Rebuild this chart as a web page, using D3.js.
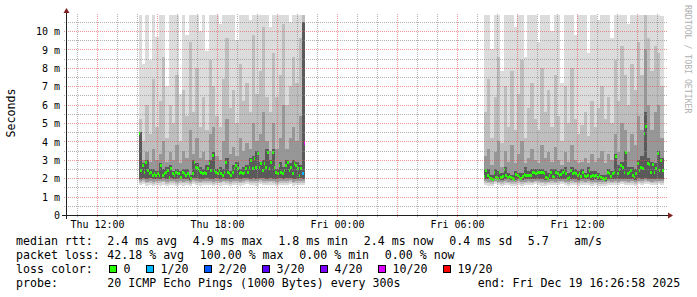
<!DOCTYPE html>
<html>
<head>
<meta charset="utf-8">
<script src="https://cdn.jsdelivr.net/npm/d3@7"></script>
<style>
  body { margin: 0; background: #ffffff; }
  svg { display: block; }
  text { font-family: "DejaVu Sans Mono", monospace; fill: #000000; white-space: pre; }
</style>
</head>
<body>
<div id="vis"></div>
<script>
// ---- data (milliseconds) ----
var graphStart = new Date(2025, 11, 18, 10, 27);
var graphEnd = new Date(2025, 11, 19, 16, 27);

// first stretch with answers, 5 minute medians
var block1Start = new Date(2025, 11, 18, 14, 5);
var block1Median = [
  4.45, 2.45, 2.72, 2.36, 2.90, 2.45, 2.27, 2.36, 2.18, 2.27,
  2.18, 2.27, 2.18, 2.72, 2.18, 2.27, 2.36, 2.45, 2.09, 2.54,
  2.27, 2.18, 2.36, 2.27, 2.27, 2.09, 2.36, 2.27, 2.18, 2.27,
  2.18, 2.00, 2.27, 2.90, 2.63, 2.54, 2.45, 2.36, 2.27, 2.36,
  2.27, 2.54, 2.81, 2.45, 3.27, 2.45, 2.36, 2.27, 2.45, 2.27,
  2.18, 2.36, 2.90, 2.36, 2.27, 2.18, 2.36, 2.54, 2.72, 2.54,
  2.27, 2.36, 2.27, 2.36, 2.54, 2.36, 2.63, 2.99, 2.54, 3.08,
  2.63, 3.36, 2.63, 2.81, 2.45, 2.81, 2.63, 3.45, 2.54, 2.90,
  3.45, 2.63, 2.36, 2.27, 2.72, 2.36, 2.27, 2.45, 2.72, 2.90,
  2.45, 2.63, 2.27, 2.81, 2.72, 2.54, 2.18, 2.54, 2.27, 3.90
];
// steps where some pings were lost (index, lost of 20)
var block1LossIdx = [98, 99];
var block1LossVal = [1, 10];

// smoke, 10 minute columns, from outer band to inner band
var block1Lo1 = [1.62,1.66,1.60,1.64,1.58,1.62,1.60,1.65,1.59,1.63, 1.61,1.57,1.64,1.60,1.62,1.58,1.66,1.63,1.60,1.62, 1.64,1.61,1.59,1.63,1.60,1.65,1.62,1.58,1.61,1.64, 1.60,1.63,1.66,1.62,1.64,1.60,1.67,1.63,1.61,1.65, 1.62,1.59,1.64,1.61,1.63,1.66,1.60,1.62,1.64,1.61];
var block1Lo2 = [1.74,1.78,1.72,1.76,1.70,1.74,1.73,1.77,1.71,1.75, 1.73,1.70,1.76,1.72,1.74,1.71,1.78,1.75,1.72,1.74, 1.76,1.73,1.71,1.75,1.72,1.77,1.74,1.70,1.73,1.76, 1.72,1.75,1.78,1.74,1.76,1.73,1.79,1.75,1.73,1.77, 1.74,1.71,1.76,1.73,1.75,1.78,1.72,1.74,1.76,1.73];
var block1Lo3 = [1.84,1.88,1.82,1.86,1.80,1.84,1.83,1.87,1.81,1.85, 1.83,1.80,1.86,1.82,1.84,1.81,1.88,1.85,1.82,1.84, 1.86,1.83,1.81,1.85,1.82,1.87,1.84,1.80,1.83,1.86, 1.82,1.85,1.88,1.84,1.86,1.83,1.89,1.85,1.83,1.87, 1.84,1.81,1.86,1.83,1.85,1.88,1.82,1.84,1.86,1.83];
var block1Lo4 = [1.98,2.02,1.96,2.00,1.95,1.98,1.97,2.01,1.95,1.99, 1.97,1.94,2.00,1.96,1.98,1.92,2.02,1.99,1.96,1.98, 2.00,1.97,1.95,1.99,1.96,2.01,1.98,1.94,1.97,2.00, 1.96,1.99,2.02,1.98,2.00,1.97,2.03,1.99,1.97,2.01, 1.98,1.95,2.00,1.97,1.99,2.02,1.96,1.98,2.00,1.97];
var block1Hi4 = [4.5,2.8,3.0,2.5,2.5,2.4,2.8,2.5,2.6,2.7, 2.4,2.5,2.4,2.5,2.5,2.2,3.0,2.8,2.6,2.5, 2.7,3.0,3.4,2.5,2.6,2.5,3.1,2.4,2.7,2.9, 2.5,2.6,2.7,3.1,3.2,3.5,2.9,3.0,3.6,3.0, 3.6,2.5,2.9,2.6,3.0,2.8,3.0,2.9,2.7,10.5];
var block1Hi3 = [4.4,3.0,3.4,2.9,3.6,3.0,3.3,4.0,2.9,3.4, 3.0,3.8,2.8,3.5,3.1,4.6,3.3,4.2,3.1,3.4, 3.0,4.4,4.8,3.2,3.0,4.0,5.2,3.3,3.7,3.2, 4.2,3.5,3.9,3.6,5.0,4.0,4.4,5.6,4.0,3.5, 5.0,3.6,4.2,6.0,3.6,4.2,4.8,4.0,5.4,10.5];
var block1Hi2 = [5.2,4.0,6.0,4.4,7.4,4.8,6.2,8.6,4.2,6.0, 5.0,7.6,4.0,6.8,5.4,9.4,5.6,8.0,4.8,6.4, 4.6,8.4,7.0,5.4,4.8,7.4,9.6,5.8,6.8,5.0, 8.2,6.2,7.2,5.6,9.8,6.6,7.8,10.2,6.4,5.6, 8.8,6.4,7.6,10.4,6.0,7.0,8.6,7.2,9.6,11];
var block1Hi1 = [12,8.2,12,8.4,12,9.7,12,12,7.0,12, 12,12,6.6,12,9.8,12,12,12,10.0,12, 8.9,12,12,12,10.4,12,12,12,12,9.5, 12,12,12,10.6,12,12,12,12,12,10.2, 12,12,12,12,12,10.5,12,12,12,12];

// second stretch with answers
var block2Start = new Date(2025, 11, 19, 7, 20);
var block2Median = [
  2.13, 2.42, 2.20, 2.05, 2.00, 1.95, 2.36, 2.05, 2.00, 2.31,
  2.09, 2.13, 2.49, 2.20, 2.09, 2.13, 2.05, 2.00, 1.97, 2.24,
  2.18, 2.05, 2.00, 2.13, 2.24, 2.18, 2.18, 2.20, 2.18, 2.31,
  2.36, 2.27, 2.31, 2.36, 2.31, 2.31, 2.27, 2.05, 2.00, 2.18,
  2.36, 2.13, 2.09, 2.36, 2.27, 2.18, 2.24, 2.36, 2.42, 2.27,
  2.00, 2.09, 2.42, 2.27, 2.36, 2.27, 2.18, 2.27, 2.13, 2.31,
  2.18, 2.13, 2.18, 2.42, 2.13, 2.18, 2.13, 2.18, 2.09, 2.18,
  2.05, 2.00, 1.95, 2.00, 2.36, 2.27, 2.13, 2.27, 2.36, 3.18,
  2.27, 2.49, 2.72, 2.63, 2.36, 3.41, 2.27, 2.36, 2.42, 2.20,
  2.09, 2.27, 2.81, 2.45, 2.63, 2.54, 4.48, 4.84, 2.81, 2.77,
  2.31, 2.77, 2.36, 2.54, 3.36, 2.45, 2.99, 2.45
];
var block2LossIdx = [];
var block2LossVal = [];

var block2Lo1 = [1.64,1.60,1.58,1.66,1.62,1.59,1.65,1.61,1.60,1.57, 1.63,1.60,1.62,1.64,1.61,1.66,1.63,1.60,1.58,1.62, 1.65,1.61,1.63,1.66,1.62,1.59,1.64,1.62,1.60,1.63, 1.61,1.64,1.60,1.62,1.59,1.57,1.56,1.63,1.61,1.65, 1.62,1.66,1.64,1.61,1.63,1.60,1.67,1.65,1.68,1.66, 1.62,1.64,1.66,1.63];
var block2Lo2 = [1.75,1.72,1.70,1.77,1.73,1.71,1.76,1.72,1.71,1.69, 1.74,1.71,1.73,1.75,1.72,1.77,1.74,1.72,1.70,1.73, 1.76,1.72,1.74,1.77,1.73,1.70,1.75,1.73,1.71,1.74, 1.72,1.75,1.71,1.73,1.70,1.69,1.68,1.74,1.72,1.76, 1.73,1.77,1.75,1.72,1.74,1.71,1.78,1.76,1.79,1.77, 1.73,1.75,1.77,1.74];
var block2Lo3 = [1.84,1.81,1.79,1.86,1.82,1.80,1.85,1.81,1.80,1.78, 1.83,1.80,1.82,1.84,1.81,1.86,1.83,1.81,1.79,1.82, 1.85,1.81,1.83,1.86,1.82,1.79,1.84,1.82,1.80,1.83, 1.81,1.84,1.80,1.82,1.79,1.78,1.77,1.83,1.81,1.85, 1.82,1.86,1.84,1.81,1.83,1.80,1.87,1.85,1.88,1.86, 1.82,1.84,1.86,1.83];
var block2Lo4 = [1.96,1.93,1.90,1.98,1.93,1.92,1.97,1.93,1.92,1.89, 1.95,1.92,1.94,1.96,1.93,1.98,1.95,1.93,1.91,1.94, 1.97,1.93,1.95,1.98,1.94,1.91,1.96,1.94,1.92,1.95, 1.93,1.96,1.92,1.94,1.91,1.88,1.87,1.95,1.93,1.97, 1.94,1.98,1.96,1.93,1.95,1.92,1.99,1.97,2.00,1.98, 1.94,1.96,1.98,1.95];
var block2Hi4 = [2.5,2.5,2.2,2.5,2.4,2.3,2.6,2.3,2.2,2.4, 2.3,2.3,2.6,2.4,2.5,2.5,2.5,2.5,2.4,2.3, 2.5,2.5,2.4,2.5,2.6,2.3,2.6,2.5,2.4,2.5, 2.3,2.6,2.4,2.4,2.3,2.2,2.2,2.5,2.4,3.3, 2.7,2.9,3.5,2.6,2.6,2.5,3.0,3.2,5.6,3.1, 2.9,2.8,3.5,3.1];
var block2Hi3 = [3.2,3.6,2.7,3.4,4.0,2.6,3.5,2.9,3.8,2.8, 3.3,4.0,2.8,3.1,3.6,3.0,2.8,3.8,3.1,3.4, 2.9,3.7,3.0,2.7,3.4,2.9,3.8,3.0,2.8,2.9, 3.1,2.8,3.3,2.9,3.1,3.5,2.8,3.3,3.0,4.4, 3.4,5.0,4.6,3.4,4.4,3.8,5.4,4.6,9.0,6.0, 4.6,5.6,6.0,4.2];
var block2Hi2 = [5.6,7.4,4.2,6.4,8.6,3.9,7.0,4.8,7.8,4.6, 6.6,8.4,4.2,5.8,7.2,5.2,4.6,8.0,5.6,6.8, 4.8,7.6,5.4,4.0,7.0,5.0,8.0,5.2,4.4,4.9, 5.6,4.3,6.2,4.8,5.8,7.0,5.2,6.4,5.0,8.4, 6.2,9.2,7.6,6.0,8.2,6.8,9.4,7.6,11,9.6, 7.8,9.2,8.8,7.0];
var block2Hi1 = [12,12,9.0,12,12,7.8,12,12,12,10.2, 12,12,8.6,12,12,12,9.4,12,12,12, 10.0,12,12,7.2,12,12,12,9.8,12,12, 12,8.8,12,12,10.6,12,12,12,9.6,12, 12,12,12,10.4,12,12,12,12,12,12, 12,12,12,10.8];

// axis labels
var yTickValues = [0, 1, 2, 3, 4, 5, 6, 7, 8, 9, 10];
var yTickLabels = ['0', '1 m', '2 m', '3 m', '4 m', '5 m', '6 m', '7 m', '8 m', '9 m', '10 m'];
var xTickTimes = [new Date(2025, 11, 18, 12), new Date(2025, 11, 18, 18), new Date(2025, 11, 19, 0),
                  new Date(2025, 11, 19, 6), new Date(2025, 11, 19, 12)];
var xTickLabels = ['Thu 12:00', 'Thu 18:00', 'Fri 00:00', 'Fri 06:00', 'Fri 12:00'];

// legend
var rttLabel = 'median rtt:';
var rttItems = ['2.4 ms avg', '4.9 ms max', '1.8 ms min', '2.4 ms now', '0.4 ms sd', '5.7'];
var rttUnit = 'am/s';
var lossLabel = 'packet loss:';
var lossItems = ['42.18 % avg', '100.00 % max', '0.00 % min', '0.00 % now'];
var lossColorLabel = 'loss color:';
var lossLevels = [0, 1, 2, 3, 4, 10, 19];
var lossLevelLabels = ['0', '1/20', '2/20', '3/20', '4/20', '10/20', '19/20'];
var lossLevelColors = ['#26ff00', '#00b8ff', '#0059ff', '#5e00ff', '#7e00ff', '#dd00ff', '#ff0000'];
var probeLabel = 'probe:';
var probeText = '20 ICMP Echo Pings (1000 Bytes) every 300s';
var endText = 'end: Fri Dec 19 16:26:58 2025';

// ---- layout ----
var w = 697;
var h = 297;
var xo = 66, xs = 600, yo = 215, ys = 200;
var yMax = 10.87;

var svg = d3.select('#vis')
  .append('svg')
    .attr('width', w)
    .attr('height', h)
    .style('background', '#ffffff');

var x = d3.scaleTime()
  .domain([graphStart, graphEnd])
  .range([xo, xo + xs]);

var y = d3.scaleLinear()
  .domain([0, yMax])
  .range([yo, yo - ys]);

function px(start, minutes) {
  return Math.round(x(new Date(start.getTime() + minutes * 60000)));
}
function py(v) {
  return Math.round(y(v));
}

var defs = svg.append('defs');
defs.append('clipPath')
  .attr('id', 'plot')
  .append('rect')
    .attr('x', xo).attr('y', yo - ys)
    .attr('width', xs).attr('height', ys);

// one pixel on, one pixel off, for the dotted grid
function dots(id, color, vertical) {
  defs.append('pattern')
    .attr('id', id)
    .attr('patternUnits', 'userSpaceOnUse')
    .attr('width', vertical ? 1 : 2)
    .attr('height', vertical ? 2 : 1)
    .append('rect')
      .attr('width', 1)
      .attr('height', 1)
      .style('fill', color);
}
var gridCol = 'rgba(143,143,143,0.7)';
var mgridCol = 'rgba(222,79,79,0.6)';
dots('hgrid', gridCol, false);
dots('hmgrid', mgridCol, false);
dots('vgrid', gridCol, true);
dots('vmgrid', mgridCol, true);

var plot = svg.append('g')
  .attr('clip-path', 'url(#plot)')
  .attr('shape-rendering', 'crispEdges');

var smokeGreys = ['#dcdcdc', '#bebebe', '#979797', '#5a5a5a'];

function drawBlock(start, median, lossIdx, lossVal, los, his) {
  // smoke bands, outer first so the darker ones sit on top
  los.forEach(function(lo, k) {
    var hi = his[k];
    plot.append('g').selectAll('rect')
      .data(d3.range(lo.length))
      .enter()
      .append('rect')
        .attr('x', function(i) { return px(start, i * 10); })
        .attr('width', function(i) { return px(start, (i + 1) * 10) - px(start, i * 10); })
        .attr('y', function(i) { return py(hi[i]); })
        .attr('height', function(i) { return py(lo[i]) - py(hi[i]); })
        .style('fill', smokeGreys[k]);
  });

  // median, coloured by loss
  plot.append('g').selectAll('rect')
    .data(median)
    .enter()
    .append('rect')
      .attr('x', function(d, i) { return px(start, i * 5); })
      .attr('width', function(d, i) { return px(start, (i + 1) * 5) - px(start, i * 5); })
      .attr('y', function(d) { return py(d) - 1; })
      .attr('height', 3)
      .style('fill', function(d, i) {
        var j = lossIdx.indexOf(i);
        var lost = j < 0 ? 0 : lossVal[j];
        var c = lossLevelColors[0];
        lossLevels.forEach(function(l, n) { if (lost >= l) c = lossLevelColors[n]; });
        return c;
      });
}

drawBlock(block1Start, block1Median, block1LossIdx, block1LossVal,
  [block1Lo1, block1Lo2, block1Lo3, block1Lo4], [block1Hi1, block1Hi2, block1Hi3, block1Hi4]);
drawBlock(block2Start, block2Median, block2LossIdx, block2LossVal,
  [block2Lo1, block2Lo2, block2Lo3, block2Lo4], [block2Hi1, block2Hi2, block2Hi3, block2Hi4]);

// ---- grid (drawn over the smoke, like rrdtool) ----
var grid = svg.append('g').attr('shape-rendering', 'crispEdges');

d3.range(1, 22).forEach(function(k) {
  var major = k % 2 === 0;
  grid.append('rect')
    .attr('x', xo - 2).attr('width', xs + 4)
    .attr('y', py(k / 2)).attr('height', 1)
    .style('fill', major ? 'url(#hmgrid)' : 'url(#hgrid)');
});

x.ticks(d3.timeHour.every(1)).forEach(function(t) {
  var major = t.getHours() % 3 === 0;
  grid.append('rect')
    .attr('x', Math.round(x(t))).attr('width', 1)
    .attr('y', yo - ys - 2).attr('height', ys + (major ? 5 : 4))
    .style('fill', major ? 'url(#vmgrid)' : 'url(#vgrid)');
});

// ---- axes ----
grid.append('line')
  .attr('x1', xo - 4).attr('x2', xo + xs + 4)
  .attr('y1', yo + 0.5).attr('y2', yo + 0.5)
  .style('stroke', '#1f1f1f');
grid.append('line')
  .attr('x1', xo + 0.5).attr('x2', xo + 0.5)
  .attr('y1', yo + 4).attr('y2', yo - ys - 4)
  .style('stroke', '#1f1f1f');

svg.append('path')
  .attr('d', 'M' + (xo + xs + 2) + ',' + (yo - 2.5) + 'L' + (xo + xs + 2) + ',' + (yo + 3.5) +
             'L' + (xo + xs + 7) + ',' + (yo + 0.5) + 'Z')
  .style('fill', '#801f1f');
svg.append('path')
  .attr('d', 'M' + (xo - 2.5) + ',' + (yo - ys - 2) + 'L' + (xo + 3.5) + ',' + (yo - ys - 2) +
             'L' + (xo + 0.5) + ',' + (yo - ys - 7) + 'Z')
  .style('fill', '#801f1f');

var yAxis = svg.append('g')
  .attr('transform', 'translate(' + xo + ',0)')
  .call(d3.axisLeft(y)
    .tickValues(yTickValues)
    .tickFormat(function(d, i) { return yTickLabels[i]; })
    .tickSize(0)
    .tickPadding(6));
yAxis.select('.domain').remove();
yAxis.selectAll('text')
  .attr('dy', '0.37em')
  .style('font-family', '"DejaVu Sans Mono", monospace')
  .style('font-size', '10px');

var xAxis = svg.append('g')
  .attr('transform', 'translate(0,' + yo + ')')
  .call(d3.axisBottom(x)
    .tickValues(xTickTimes)
    .tickFormat(function(d, i) { return xTickLabels[i]; })
    .tickSize(0)
    .tickPadding(6));
xAxis.select('.domain').remove();
xAxis.selectAll('text')
  .style('font-family', '"DejaVu Sans Mono", monospace')
  .style('font-size', '10px');

svg.append('text')
  .attr('transform', 'translate(15,113) rotate(-90)')
  .attr('text-anchor', 'middle')
  .style('font-size', '11.6px')
  .text('Seconds');

svg.append('text')
  .attr('transform', 'translate(685,5) rotate(90)')
  .style('font-size', '8.2px')
  .style('fill', '#b0b0b0')
  .text('RRDTOOL / TOBI OETIKER');

// ---- legend ----
var legend = svg.append('g').style('font-size', '11.6px');
var col0 = 16, col1 = 107.3, charW = 7, itemGap = 15.5;
var lineY = [245, 259, 273, 287];

// items follow each other: width of the text plus a fixed gap
function row(items, yy) {
  var xx = col1;
  items.forEach(function(s) {
    legend.append('text').attr('x', xx).attr('y', yy).text(s);
    xx += s.length * charW + itemGap;
  });
}

legend.append('text').attr('x', col0).attr('y', lineY[0]).text(rttLabel);
row(rttItems, lineY[0]);
legend.append('text').attr('x', 574).attr('y', lineY[0]).text(rttUnit);

legend.append('text').attr('x', col0).attr('y', lineY[1]).text(lossLabel);
row(lossItems, lineY[1]);

legend.append('text').attr('x', col0).attr('y', lineY[2]).text(lossColorLabel);
var bx = 109;
lossLevelLabels.forEach(function(lab, i) {
  legend.append('rect')
    .attr('x', bx + 0.5).attr('y', lineY[2] - 7.5)
    .attr('width', 7).attr('height', 7)
    .style('fill', lossLevelColors[i])
    .style('stroke', '#000000')
    .attr('shape-rendering', 'crispEdges');
  legend.append('text').attr('x', bx + 14.5).attr('y', lineY[2]).text(lab);
  bx += 14.5 + lab.length * charW + itemGap;
});

legend.append('text').attr('x', col0).attr('y', lineY[3]).text(probeLabel);
legend.append('text').attr('x', col1).attr('y', lineY[3]).text(probeText);
legend.append('text').attr('x', 477.7).attr('y', lineY[3]).text(endText);
</script>
</body>
</html>
